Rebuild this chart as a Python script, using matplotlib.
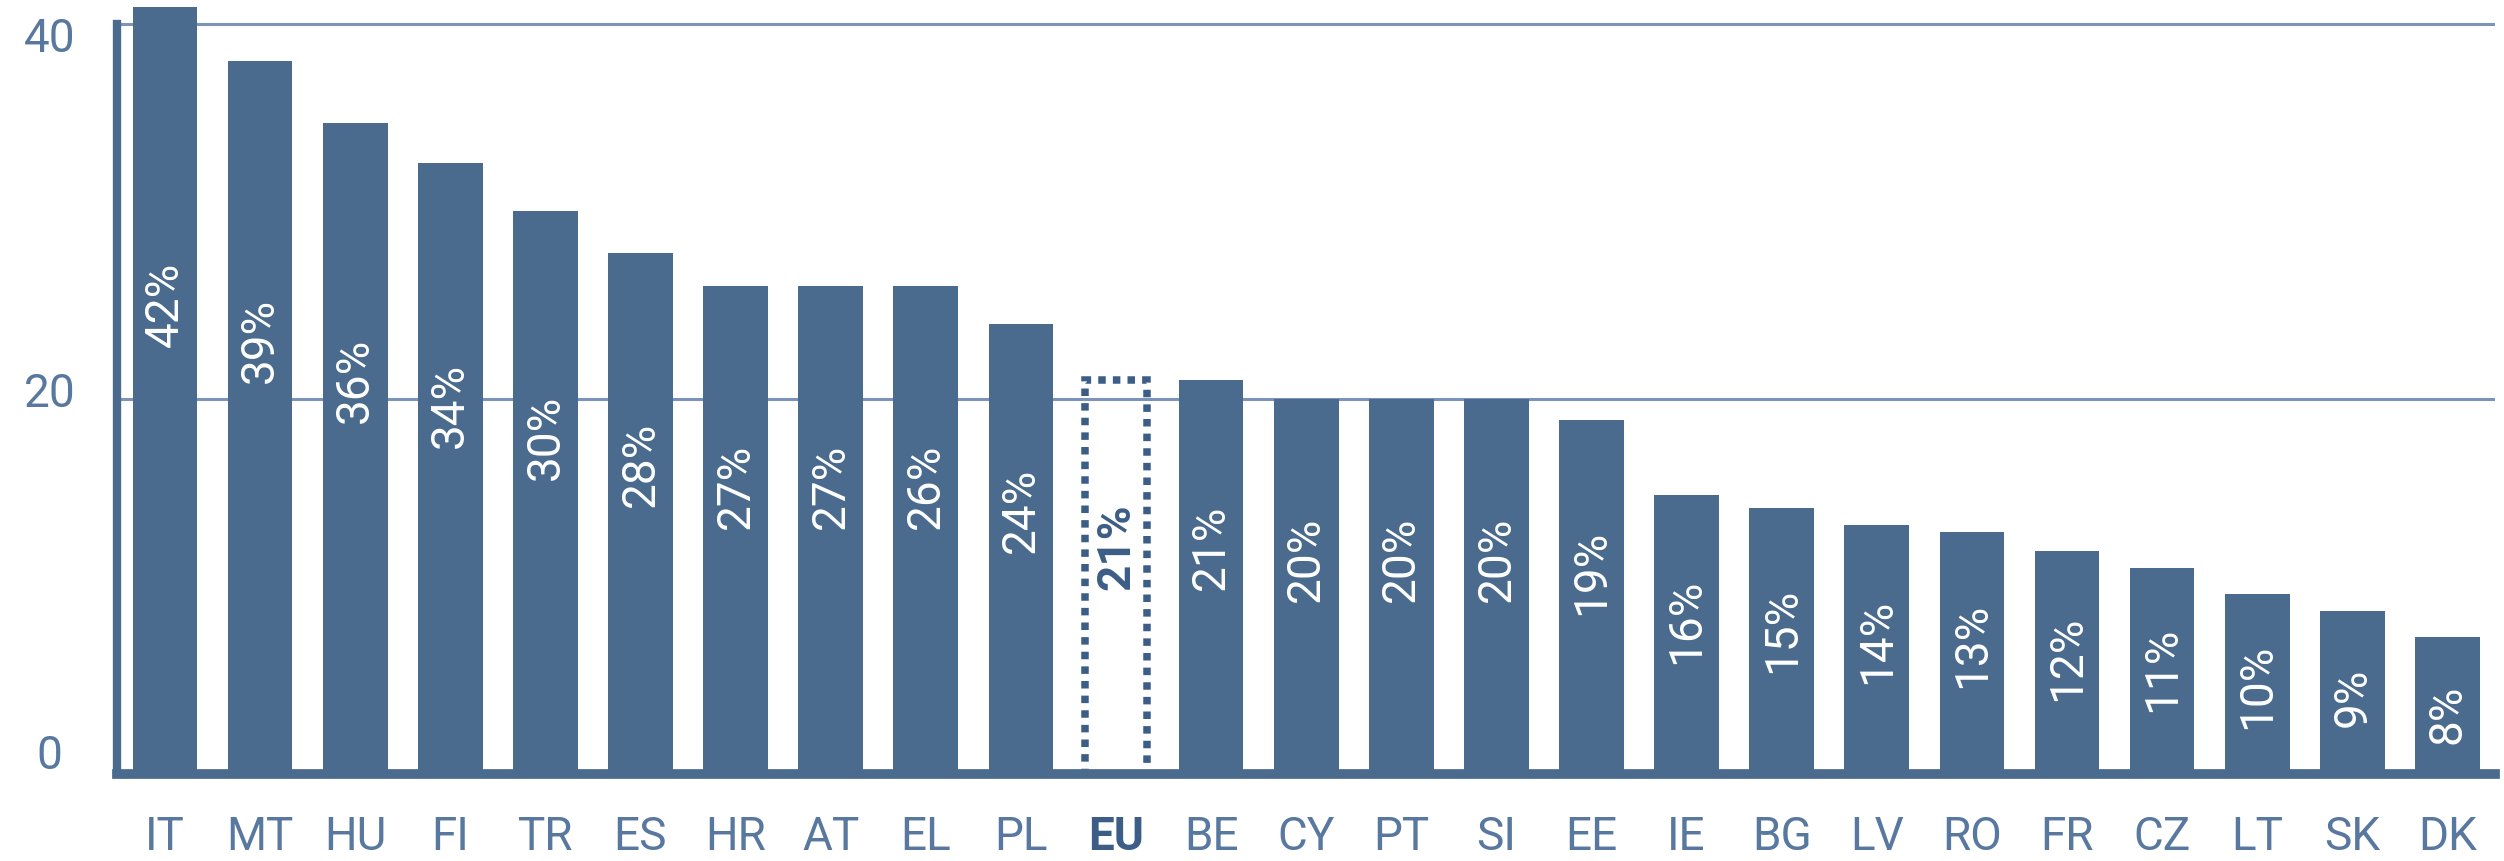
import matplotlib
matplotlib.use("Agg")
import matplotlib.pyplot as plt
from matplotlib.transforms import ScaledTranslation
import numpy as np

plt.rcParams["font.family"] = ["Roboto", "DejaVu Sans"]

# data
countries = ["IT", "MT", "HU", "FI", "TR", "ES", "HR", "AT", "EL", "PL", "EU",
             "BE", "CY", "PT", "SI", "EE", "IE", "BG", "LV", "RO", "FR", "CZ",
             "LT", "SK", "DK"]
heights = [40.9, 38.0, 34.7, 32.6, 30.0, 27.8, 26.0, 26.0, 26.0, 24.0, 21.0,
           21.0, 20.0, 20.0, 20.0, 18.9, 14.9, 14.2, 13.3, 12.9, 11.9, 11.0,
           9.6, 8.7, 7.3]
pct_labels = ["42%", "39%", "36%", "34%", "30%", "28%", "27%", "27%", "26%",
              "24%", "21%", "21%", "20%", "20%", "20%", "19%", "16%", "15%",
              "14%", "13%", "12%", "11%", "10%", "9%", "8%"]
y_ticks = [0, 20, 40]
highlight = "EU"

BAR = "#4a6b8e"
DARK = "#3c5d86"
GRID = "#7b93b8"
TICK = "#5878a0"

fig = plt.figure(figsize=(25.04, 8.62), dpi=100)
ax = fig.add_axes([0.0469, 0.101, 0.9495, 0.8983])

x = np.arange(len(countries))
for i, (c, h, lab) in enumerate(zip(countries, heights, pct_labels)):
    ly = 0.65 * h - 1.5
    if c == highlight:
        ax.bar(i, h, width=0.66, fill=False, edgecolor=DARK, linewidth=5.4,
               linestyle=(0, (1, 0.95)), zorder=3)
        ax.text(i, ly, lab, rotation=90, ha="center", va="center",
                color=DARK, fontsize=33, fontweight="bold", zorder=4)
    else:
        ax.bar(i, h, width=0.68, color=BAR, zorder=3)
        ax.text(i, ly, lab, rotation=90, ha="center", va="center",
                color="white", fontsize=33, zorder=4)

ax.set_xlim(-0.5, 24.5)
ax.set_ylim(0, 41.3)
ax.set_yticks(y_ticks)
ax.set_yticklabels([str(t) for t in y_ticks])
ax.set_xticks(x)
ax.set_xticklabels(countries)

ax.tick_params(axis="both", length=0, labelsize=33, colors=TICK)
ax.tick_params(axis="x", pad=29)
ax.tick_params(axis="y", pad=49)

for t in ax.get_xticklabels():
    if t.get_text() == highlight:
        t.set_fontweight("bold")
        t.set_color(DARK)

# y labels are centred and nudged a little, as in the original
nudge = {"0": 0.23, "20": 0.10, "40": -0.10}
for t in ax.get_yticklabels():
    t.set_ha("center")
    dy = nudge.get(t.get_text(), 0)
    t.set_transform(t.get_transform() + ScaledTranslation(0, dy, fig.dpi_scale_trans))

ax.grid(axis="y", color=GRID, linewidth=2.2)
ax.set_axisbelow(True)

for s in ["top", "right"]:
    ax.spines[s].set_visible(False)
ax.spines["left"].set_color(BAR)
ax.spines["left"].set_linewidth(6)
ax.spines["left"].set_bounds(0, 40)
ax.spines["bottom"].set_color(BAR)
ax.spines["bottom"].set_linewidth(7)
ax.spines["bottom"].set_zorder(5)

fig.savefig("out.png", dpi=100, facecolor="white")
